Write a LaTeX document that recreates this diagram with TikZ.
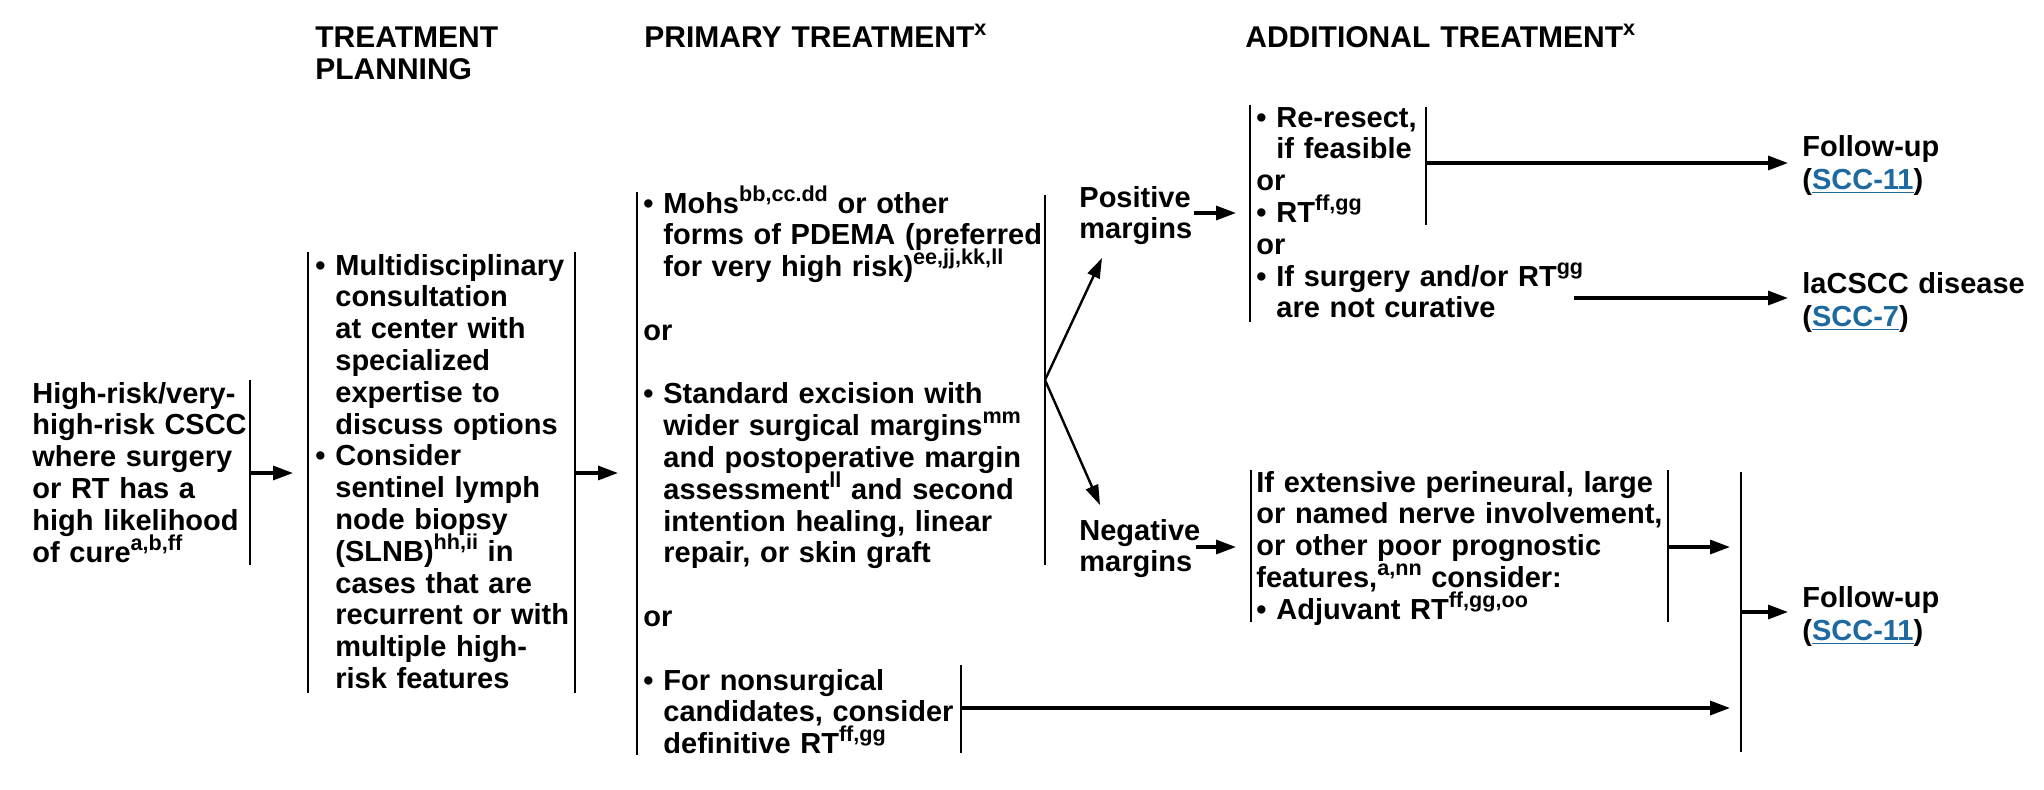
\documentclass[tikz,border=0pt]{standalone}
\usepackage{fontspec}
\setmainfont{Liberation Sans}
\usetikzlibrary{arrows.meta}
\definecolor{linkblue}{RGB}{30,105,160}
\newcommand\bl{\makebox[10pt][l]{•}}
\newcommand\ind{\hspace*{10pt}}
\newcommand\sups[1]{\raisebox{6pt}[0pt][0pt]{\fontsize{10.8}{11}\selectfont #1}}
\newcommand\lnk[1]{(\textcolor{linkblue}{\underline{#1}})}
\tikzset{
  txt/.style={anchor=base west, align=left, inner sep=0pt, text width=260pt,
    font=\fontsize{14.5}{15.9}\selectfont\bfseries},
  lnktxt/.style={txt, font=\fontsize{14.5}{16.6}\selectfont\bfseries},
  hdr/.style={anchor=base west, align=left, inner sep=0pt, text width=260pt,
    font=\fontsize{15}{16}\selectfont\bfseries},
  bar/.style={line width=1.3pt},
  arr/.style={line width=1.6pt, -{Triangle[length=10pt,width=7pt]}},
  darr/.style={line width=1.2pt, -{Triangle[length=10pt,width=6.5pt]}}
}
\begin{document}
\begin{tikzpicture}[x=0.5pt,y=-0.5pt]
\fill[white] (0,0) rectangle (2044,789);
\useasboundingbox (0,0) rectangle (2044,789);

% headers
\node[hdr] (h1) at (315,47) {TREATMENT\\PLANNING};
\node[hdr] (h2) at (644,47) {PRIMARY TREATMENT\sups{x}};
\node[hdr] (h3) at (1245,47) {ADDITIONAL TREATMENT\sups{x}};

% text blocks
\node[txt] (t1) at (32,403) {High-risk/very-\\high-risk CSCC\\where surgery\\or RT has a\\high likelihood\\of cure\sups{a,b,ff}};

\node[txt] (t2) at (315,275) {\bl Multidisciplinary\\\ind consultation\\\ind at center with\\\ind specialized\\\ind expertise to\\\ind discuss options\\\bl Consider\\\ind sentinel lymph\\\ind node biopsy\\\ind (SLNB)\sups{hh,ii} in\\\ind cases that are\\\ind recurrent or with\\\ind multiple high-\\\ind risk features};

\node[txt] (t3) at (643,213) {\bl Mohs\sups{bb,cc.dd} or other\\\ind forms of PDEMA (preferred\\\ind for very high risk)\sups{ee,jj,kk,ll}\\\mbox{}\\or\\\mbox{}\\\bl Standard excision with\\\ind wider surgical margins\sups{mm}\\\ind and postoperative margin\\\ind assessment\sups{ll} and second\\\ind intention healing, linear\\\ind repair, or skin graft\\\mbox{}\\or\\\mbox{}\\\bl For nonsurgical\\\ind candidates, consider\\\ind definitive RT\sups{ff,gg}};

\node[txt] (pos) at (1079,207) {Positive\\margins};
\node[txt] (neg) at (1079,540) {Negative\\margins};

\node[txt] (rr) at (1256,127) {\bl Re-resect,\\\ind if feasible\\or\\\bl RT\sups{ff,gg}\\or\\\bl If surgery and/or RT\sups{gg}\\\ind are not curative};

\node[txt] (ext) at (1256,492) {If extensive perineural, large\\or named nerve involvement,\\or other poor prognostic\\features,\sups{a,nn} consider:\\\bl Adjuvant RT\sups{ff,gg,oo}};

\node[lnktxt] (fu1) at (1802,156) {Follow-up\\\lnk{SCC-11}};
\node[lnktxt] (la) at (1802,293) {laCSCC disease\\\lnk{SCC-7}};
\node[lnktxt] (fu2) at (1802,607) {Follow-up\\\lnk{SCC-11}};

% bars
\coordinate (b1t) at (250,380); \coordinate (b1b) at (250,565);
\coordinate (b2lt) at (308,252); \coordinate (b2lb) at (308,693);
\coordinate (b2rt) at (575,252); \coordinate (b2rb) at (575,693);
\coordinate (b3lt) at (637,192); \coordinate (b3lb) at (637,755);
\coordinate (b3rt) at (1045,195); \coordinate (b3rb) at (1045,565);
\coordinate (nst) at (961,665); \coordinate (nsb) at (961,753);
\coordinate (rrlt) at (1250,105); \coordinate (rrlb) at (1250,322);
\coordinate (rrrt) at (1426,107); \coordinate (rrrb) at (1426,225);
\coordinate (exlt) at (1251,470); \coordinate (exlb) at (1251,622);
\coordinate (exrt) at (1668,470); \coordinate (exrb) at (1668,622);
\coordinate (fbt) at (1741,472); \coordinate (fbb) at (1741,752);
\draw[bar] (b1t) -- (b1b);
\draw[bar] (b2lt) -- (b2lb);
\draw[bar] (b2rt) -- (b2rb);
\draw[bar] (b3lt) -- (b3lb);
\draw[bar] (b3rt) -- (b3rb);
\draw[bar] (nst) -- (nsb);
\draw[bar] (rrlt) -- (rrlb);
\draw[bar] (rrrt) -- (rrrb);
\draw[bar] (exlt) -- (exlb);
\draw[bar] (exrt) -- (exrb);
\draw[bar] (fbt) -- (fbb);

% arrows
\coordinate (a1s) at (250,473); \coordinate (a1e) at (293,473);
\coordinate (a2s) at (575,473); \coordinate (a2e) at (618,473);
\coordinate (sp) at (1045,380);
\coordinate (spu) at (1102,258); \coordinate (spd) at (1100,505);
\coordinate (pas) at (1194,213); \coordinate (pae) at (1236,213);
\coordinate (rras) at (1426,163); \coordinate (rrae) at (1788,163);
\coordinate (las) at (1574,298); \coordinate (lae) at (1788,298);
\coordinate (nas) at (1196,547); \coordinate (nae) at (1236,547);
\coordinate (exas) at (1668,547); \coordinate (exae) at (1730,547);
\coordinate (lgs) at (961,708); \coordinate (lge) at (1730,708);
\coordinate (fas) at (1741,612); \coordinate (fae) at (1788,612);
\draw[arr] (a1s) -- (a1e);
\draw[arr] (a2s) -- (a2e);
\draw[darr] (sp) -- (spu);
\draw[darr] (sp) -- (spd);
\draw[arr] (pas) -- (pae);
\draw[arr] (rras) -- (rrae);
\draw[arr] (las) -- (lae);
\draw[arr] (nas) -- (nae);
\draw[arr] (exas) -- (exae);
\draw[arr] (lgs) -- (lge);
\draw[arr] (fas) -- (fae);
\end{tikzpicture}
\end{document}
